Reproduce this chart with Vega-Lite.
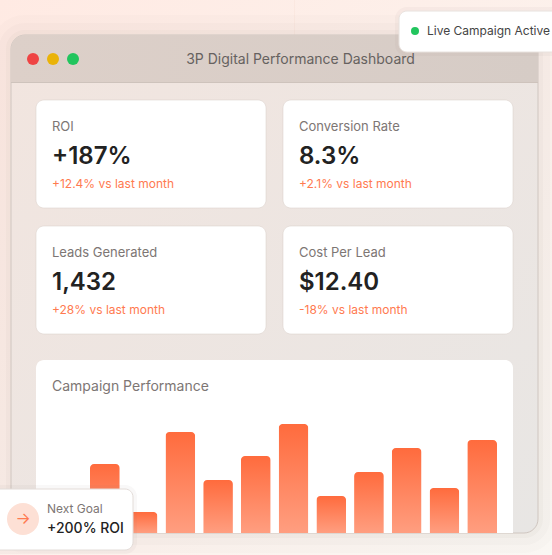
{
  "$schema": "https://vega.github.io/schema/vega-lite/v6.json",
  "width": 552,
  "height": 555,
  "padding": 0,
  "autosize": "none",
  "config": {
    "view": {"stroke": null},
    "axis": {"disable": true},
    "legend": {"disable": true},
    "text": {"font": "Inter"}
  },
  "datasets": {
    "kpis": [
      {"metric": "ROI", "value": "+187%", "change": "+12.4% vs last month", "col": "left", "row": "top"},
      {"metric": "Conversion Rate", "value": "8.3%", "change": "+2.1% vs last month", "col": "right", "row": "top"},
      {"metric": "Leads Generated", "value": "1,432", "change": "+28% vs last month", "col": "left", "row": "bottom"},
      {"metric": "Cost Per Lead", "value": "$12.40", "change": "-18% vs last month", "col": "right", "row": "bottom"}
    ],
    "bars": [
      {"campaign": "C1", "value": 69},
      {"campaign": "C2", "value": 21},
      {"campaign": "C3", "value": 101},
      {"campaign": "C4", "value": 53},
      {"campaign": "C5", "value": 77},
      {"campaign": "C6", "value": 109},
      {"campaign": "C7", "value": 37},
      {"campaign": "C8", "value": 61},
      {"campaign": "C9", "value": 85},
      {"campaign": "C10", "value": 45},
      {"campaign": "C11", "value": 93}
    ],
    "lights": [
      {"light": "close", "bar": "titlebar"},
      {"light": "minimise", "bar": "titlebar"},
      {"light": "zoom", "bar": "titlebar"}
    ],
    "part": [{"part": "part", "title": "3P Digital Performance Dashboard", "chart": "Campaign Performance", "live": "Live Campaign Active", "goal": "Next Goal", "target": "+200% ROI", "arrow": "→"}]
  },
  "resolve": {"scale": {"x": "independent", "y": "independent", "color": "independent"}},
  "layer": [
    {
      "data": {"name": "part"},
      "mark": {"type": "rect", "fill": {"gradient": "linear", "x1": 0, "y1": 0, "x2": 1, "y2": 1, "stops": [{"offset": 0, "color": "#ffeae3"}, {"offset": 1, "color": "#faf7f3"}]}},
      "encoding": {
        "x": {"field": "part", "type": "nominal", "scale": {"type": "band", "range": [0, 552]}},
        "y": {"field": "part", "type": "nominal", "scale": {"type": "band", "range": [0, 555]}}
      }
    },
    {
      "data": {"name": "part"},
      "mark": {"type": "rect", "fill": "#fbe8e0"},
      "encoding": {
        "x": {"field": "part", "type": "nominal", "scale": {"type": "band", "range": [294, 295]}},
        "y": {"field": "part", "type": "nominal", "scale": {"type": "band", "range": [0, 40]}}
      }
    },
    {
      "data": {"name": "part"},
      "encoding": {
        "x": {"field": "part", "type": "nominal", "scale": {"type": "band", "range": [11, 538]}},
        "y": {"field": "part", "type": "nominal", "scale": {"type": "band", "range": [35, 533]}}
      },
      "layer": [
        {"mark": {"type": "rect", "cornerRadius": 14, "fillOpacity": 0, "stroke": "#8a7a70", "strokeOpacity": 0.025, "strokeWidth": 40}},
        {"mark": {"type": "rect", "cornerRadius": 14, "fillOpacity": 0, "stroke": "#8a7a70", "strokeOpacity": 0.03, "strokeWidth": 24}},
        {"mark": {"type": "rect", "cornerRadius": 14, "fillOpacity": 0, "stroke": "#8a7a70", "strokeOpacity": 0.04, "strokeWidth": 10}},
        {
          "mark": {
            "type": "rect",
            "cornerRadius": 14,
            "stroke": "#cfc6c0",
            "strokeWidth": 1,
            "fill": {"gradient": "linear", "x1": 0, "y1": 0, "x2": 1, "y2": 1, "stops": [{"offset": 0, "color": "#f2e5df"}, {"offset": 1, "color": "#e8e6e4"}]}
          }
        }
      ]
    },
    {
      "data": {"name": "part"},
      "mark": {
        "type": "rect",
        "cornerRadiusTopLeft": 14,
        "cornerRadiusTopRight": 14,
        "fill": {"gradient": "linear", "x1": 0, "y1": 0, "x2": 1, "y2": 0, "stops": [{"offset": 0, "color": "#ddd0c9"}, {"offset": 1, "color": "#d6ccc6"}]}
      },
      "encoding": {
        "x": {"field": "part", "type": "nominal", "scale": {"type": "band", "range": [11, 538]}},
        "y": {"field": "part", "type": "nominal", "scale": {"type": "band", "range": [35, 83]}}
      }
    },
    {
      "data": {"name": "part"},
      "mark": {"type": "rect", "fill": "#cec3bc"},
      "encoding": {
        "x": {"field": "part", "type": "nominal", "scale": {"type": "band", "range": [11, 538]}},
        "y": {"field": "part", "type": "nominal", "scale": {"type": "band", "range": [82, 83]}}
      }
    },
    {
      "data": {"name": "lights"},
      "mark": {"type": "point", "filled": true, "opacity": 1, "size": 144},
      "encoding": {
        "x": {"field": "light", "type": "nominal", "scale": {"type": "point", "domain": ["close", "minimise", "zoom"], "range": [33, 73], "padding": 0}},
        "y": {"field": "bar", "type": "nominal", "scale": {"type": "band", "range": [51, 67]}},
        "color": {"field": "light", "type": "nominal", "scale": {"domain": ["close", "minimise", "zoom"], "range": ["#ef4444", "#eab308", "#22c55e"]}}
      }
    },
    {
      "data": {"name": "part"},
      "mark": {"type": "text", "align": "center", "baseline": "alphabetic", "fontSize": 14, "color": "#666260", "dx": 26, "dy": 5},
      "encoding": {
        "x": {"field": "part", "type": "nominal", "scale": {"type": "band", "range": [11, 538]}},
        "y": {"field": "part", "type": "nominal", "scale": {"type": "band", "range": [35, 83]}},
        "text": {"field": "title"}
      }
    },
    {
      "data": {"name": "kpis"},
      "layer": [
        {
          "encoding": {
            "x": {"field": "col", "type": "nominal", "scale": {"type": "band", "domain": ["left", "right"], "range": [36, 513], "paddingInner": 0.0688, "paddingOuter": 0}},
            "y": {"field": "row", "type": "nominal", "scale": {"type": "band", "domain": ["top", "bottom"], "range": [100, 334], "paddingInner": 0.1429, "paddingOuter": 0}}
          },
          "layer": [
            {"mark": {"type": "rect", "cornerRadius": 8, "fill": "#ffffff", "stroke": "#d9cfc9", "strokeOpacity": 0.5, "strokeWidth": 1}}
          ]
        },
        {
          "encoding": {
            "x": {"field": "col", "type": "nominal", "bandPosition": 0},
            "y": {"field": "row", "type": "nominal", "bandPosition": 0}
          },
          "layer": [
            {
              "mark": {"type": "text", "align": "left", "baseline": "alphabetic", "fontSize": 13, "color": "#7d7674", "dx": 16, "dy": 31},
              "encoding": {"text": {"field": "metric"}}
            },
            {
              "mark": {"type": "text", "align": "left", "baseline": "alphabetic", "fontSize": 24, "fontWeight": 600, "color": "#222222", "dx": 16, "dy": 64},
              "encoding": {"text": {"field": "value"}}
            },
            {
              "mark": {"type": "text", "align": "left", "baseline": "alphabetic", "fontSize": 12, "color": "#ff7a50", "dx": 16, "dy": 88},
              "encoding": {"text": {"field": "change"}}
            }
          ]
        }
      ]
    },
    {
      "data": {"name": "part"},
      "encoding": {
        "x": {"field": "part", "type": "nominal", "scale": {"type": "band", "range": [36, 513]}},
        "y": {"field": "part", "type": "nominal", "scale": {"type": "band", "range": [360, 533]}}
      },
      "layer": [
        {"mark": {"type": "rect", "cornerRadiusTopLeft": 8, "cornerRadiusTopRight": 8, "fill": "#ffffff"}},
        {
          "mark": {"type": "text", "align": "left", "baseline": "alphabetic", "fontSize": 14, "color": "#7d7674", "dx": 16, "dy": 31},
          "encoding": {
            "x": {"field": "part", "type": "nominal", "bandPosition": 0},
            "y": {"field": "part", "type": "nominal", "bandPosition": 0},
            "text": {"field": "chart"}
          }
        }
      ]
    },
    {
      "data": {"name": "bars"},
      "mark": {
        "type": "bar",
        "cornerRadiusEnd": 4,
        "fill": {"gradient": "linear", "x1": 0, "y1": 0, "x2": 0, "y2": 1, "stops": [{"offset": 0, "color": "#ff6b3d"}, {"offset": 1, "color": "#ff9e80"}]}
      },
      "encoding": {
        "x": {"field": "campaign", "type": "nominal", "sort": null, "scale": {"type": "band", "range": [90, 497], "paddingInner": 0.212, "paddingOuter": 0}},
        "y": {"field": "value", "type": "quantitative", "scale": {"domain": [0, 120], "range": [533, 413]}}
      }
    },
    {
      "data": {"name": "part"},
      "encoding": {
        "x": {"field": "part", "type": "nominal", "scale": {"type": "band", "range": [-12, 133]}},
        "y": {"field": "part", "type": "nominal", "scale": {"type": "band", "range": [489, 550]}}
      },
      "layer": [
        {"mark": {"type": "rect", "cornerRadius": 8, "fillOpacity": 0, "stroke": "#8a7a70", "strokeOpacity": 0.05, "strokeWidth": 8}},
        {"mark": {"type": "rect", "cornerRadius": 8, "fill": "#ffffff", "stroke": "#e3dcd8", "strokeWidth": 1}}
      ]
    },
    {
      "data": {"name": "part"},
      "encoding": {
        "x": {"field": "part", "type": "nominal", "scale": {"type": "band", "range": [7, 39]}},
        "y": {"field": "part", "type": "nominal", "scale": {"type": "band", "range": [503, 535]}}
      },
      "layer": [
        {"mark": {"type": "point", "filled": true, "opacity": 1, "size": 1024, "color": "#fde0d5"}},
        {
          "mark": {"type": "text", "align": "center", "baseline": "middle", "fontSize": 16, "color": "#ff7a50"},
          "encoding": {"text": {"field": "arrow"}}
        }
      ]
    },
    {
      "data": {"name": "part"},
      "encoding": {
        "x": {"field": "part", "type": "nominal", "bandPosition": 0, "scale": {"type": "band", "range": [47, 133]}},
        "y": {"field": "part", "type": "nominal", "bandPosition": 0, "scale": {"type": "band", "range": [489, 550]}}
      },
      "layer": [
        {
          "mark": {"type": "text", "align": "left", "baseline": "alphabetic", "fontSize": 12, "color": "#7d7674", "dy": 24},
          "encoding": {"text": {"field": "goal"}}
        },
        {
          "mark": {"type": "text", "align": "left", "baseline": "alphabetic", "fontSize": 14, "fontWeight": 500, "color": "#222222", "dy": 44},
          "encoding": {"text": {"field": "target"}}
        }
      ]
    },
    {
      "data": {"name": "part"},
      "encoding": {
        "x": {"field": "part", "type": "nominal", "scale": {"type": "band", "range": [399, 572]}},
        "y": {"field": "part", "type": "nominal", "scale": {"type": "band", "range": [11, 52]}}
      },
      "layer": [
        {"mark": {"type": "rect", "cornerRadius": 8, "fillOpacity": 0, "stroke": "#8a7a70", "strokeOpacity": 0.05, "strokeWidth": 8}},
        {"mark": {"type": "rect", "cornerRadius": 8, "fill": "#ffffff", "stroke": "#e8e2de", "strokeWidth": 1}}
      ]
    },
    {
      "data": {"name": "part"},
      "mark": {"type": "point", "filled": true, "opacity": 1, "size": 64, "color": "#22c55e"},
      "encoding": {
        "x": {"field": "part", "type": "nominal", "scale": {"type": "band", "range": [411, 419]}},
        "y": {"field": "part", "type": "nominal", "scale": {"type": "band", "range": [27, 35]}}
      }
    },
    {
      "data": {"name": "part"},
      "mark": {"type": "text", "align": "left", "baseline": "middle", "fontSize": 12, "color": "#444444"},
      "encoding": {
        "x": {"field": "part", "type": "nominal", "bandPosition": 0, "scale": {"type": "band", "range": [427, 552]}},
        "y": {"field": "part", "type": "nominal", "scale": {"type": "band", "range": [26, 36]}},
        "text": {"field": "live"}
      }
    }
  ]
}
